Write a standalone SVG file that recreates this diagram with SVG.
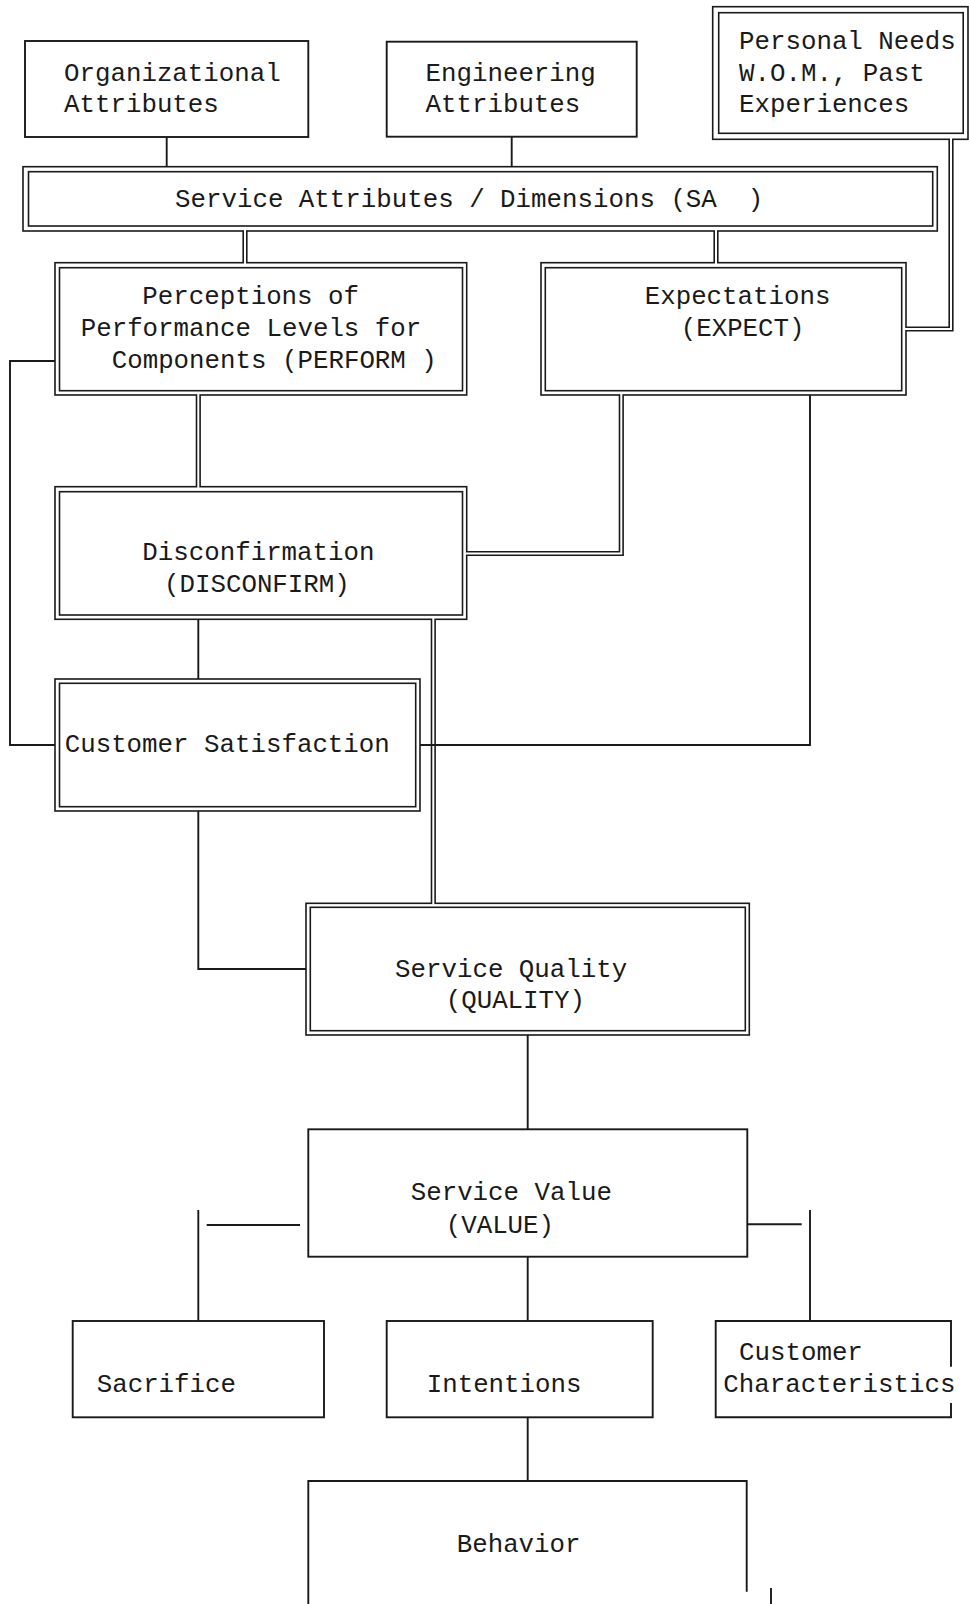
<svg xmlns="http://www.w3.org/2000/svg" width="969" height="1604" viewBox="0 0 969 1604">
<style>
text{font-family:"Liberation Mono","Courier New",monospace;font-size:25.8px;fill:#1a1a1a}
.s{fill:none;stroke:#1a1a1a;stroke-width:1.9}
.d{fill:none;stroke:#1a1a1a;stroke-width:1.6}
.dk{fill:none;stroke:#1a1a1a;stroke-width:5.2}
.dw{fill:none;stroke:#fff;stroke-width:2}
.c{fill:none;stroke:#1a1a1a;stroke-width:1.9}
</style>
<rect width="969" height="1604" fill="#fff"/>
<g id="org"><rect class="s" x="25" y="41" width="283.3" height="96"/><text x="64" y="80.6">Organizational</text><text x="64" y="112">Attributes</text></g>
<g id="eng"><rect class="s" x="386.7" y="41.7" width="250" height="95"/><text x="425.5" y="80.6">Engineering</text><text x="425.5" y="112">Attributes</text></g>
<g id="personal"><rect class="d" x="712.7" y="6.7" width="255.3" height="132.6"/><rect class="d" x="718.7" y="12.7" width="244.5" height="120.6"/><text x="739" y="49.2">Personal Needs</text><text x="739" y="80.6">W.O.M., Past</text><text x="739" y="112">Experiences</text></g>
<g id="sa"><rect class="d" x="23" y="166.7" width="914.3" height="64.3"/><rect class="d" x="28.5" y="171.7" width="904.2" height="54.3"/><text x="175" y="206.7" xml:space="preserve">Service Attributes / Dimensions (SA  )</text></g>
<g id="perform"><rect class="d" x="55" y="262.7" width="411.7" height="132.3"/><rect class="d" x="59.5" y="267.7" width="403" height="123"/><text x="142.3" y="304">Perceptions of</text><text x="80.7" y="336">Performance Levels for</text><text x="111.7" y="367.7">Components (PERFORM )</text></g>
<g id="expect"><rect class="d" x="541" y="262.7" width="365" height="132.3"/><rect class="d" x="545.3" y="267.7" width="356.4" height="123"/><text x="644.7" y="304">Expectations</text><text x="680.7" y="336">(EXPECT)</text></g>
<g id="disconfirm"><rect class="d" x="55" y="486.7" width="411.7" height="132.6"/><rect class="d" x="59.5" y="491.7" width="403" height="123.3"/><text x="142.3" y="560">Disconfirmation</text><text x="164" y="591.7">(DISCONFIRM)</text></g>
<g id="satisfaction"><rect class="d" x="55" y="679" width="365" height="132"/><rect class="d" x="59.5" y="683.3" width="356.2" height="123.4"/><text x="64.7" y="752.3">Customer Satisfaction</text></g>
<g id="quality"><rect class="d" x="306" y="903.3" width="443.3" height="131.7"/><rect class="d" x="310.3" y="907.3" width="435" height="123.4"/><text x="395" y="976.7">Service Quality</text><text x="445.7" y="1008.3">(QUALITY)</text></g>
<g id="value"><rect class="s" x="308.3" y="1129.3" width="439" height="127.4"/><text x="410.7" y="1200">Service Value</text><text x="445.7" y="1232.7">(VALUE)</text></g>
<g id="sacrifice"><rect class="s" x="72.7" y="1321" width="251.3" height="96.3"/><text x="96.7" y="1392.3">Sacrifice</text></g>
<g id="intentions"><rect class="s" x="386.7" y="1321" width="266" height="96.3"/><text x="426.7" y="1392.3">Intentions</text></g>
<g id="characteristics"><path class="s" d="M951,1366.7 V1321 H715.7 V1417.3 H951 V1403"/><text x="739" y="1360">Customer</text><text x="723.3" y="1391.7">Characteristics</text></g>
<g id="behavior"><path class="s" d="M308.3,1604 V1481 H746.7 V1591.7"/><text x="456.7" y="1552.3">Behavior</text></g>
<g id="connectors">
<g id="double">
<path class="dk" d="M245,231 V262.7"/><path class="dw" d="M245,229.8 V263.9"/>
<path class="dk" d="M716,231 V262.7"/><path class="dw" d="M716,229.8 V263.9"/>
<path class="dk" d="M951,139.3 V329 H906"/><path class="dw" d="M951,138.1 V329 H904.8"/>
<path class="dk" d="M198.3,395 V486.7"/><path class="dw" d="M198.3,393.8 V487.9"/>
<path class="dk" d="M621.3,395 V553.5 H466.7"/><path class="dw" d="M621.3,393.8 V553.5 H465.5"/>
<path class="dk" d="M433.3,619.3 V903.3"/><path class="dw" d="M433.3,618.1 V904.5"/>
</g>
<g id="single">
<path class="c" d="M166.7,137 V166.7"/>
<path class="c" d="M511.7,136.7 V166.7"/>
<path class="c" d="M55,361 H10 V745 H55"/>
<path class="c" d="M810,395 V745 H420"/>
<path class="c" d="M198.3,619.3 V679"/>
<path class="c" d="M198.3,811 V969 H306"/>
<path class="c" d="M527.7,1035 V1129.3"/>
<path class="c" d="M206.7,1225 H300"/>
<path class="c" d="M198.3,1210 V1321"/>
<path class="c" d="M747.3,1224.3 H801.7"/>
<path class="c" d="M810,1210 V1321"/>
<path class="c" d="M527.7,1256.7 V1321"/>
<path class="c" d="M527.7,1417.3 V1481"/>
<path class="c" d="M771,1588 V1604"/>
</g>
</g>
</svg>
